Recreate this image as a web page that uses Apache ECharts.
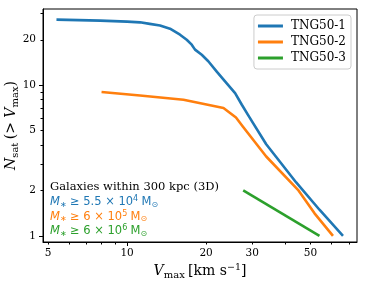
<!DOCTYPE html>
<html><head><meta charset="utf-8">
<script src="https://cdn.jsdelivr.net/npm/echarts@6/dist/echarts.min.js"></script>
<style>html,body{margin:0;padding:0;background:#fff}#c{width:366px;height:285px}</style>
</head><body><div id="c"></div>
<script>
const seriesNames = ['TNG50-1', 'TNG50-2', 'TNG50-3'];
const vmax1 = [5.38, 7.9, 10.0, 11.2, 12.2, 13.35, 14.57, 15.91, 16.87, 17.63, 18.15, 19.25, 20.39, 21.96, 23.62, 25.8, 27.37, 29.2, 33.9, 44.1, 54.1, 66.5];
const nsat1 = [27.2, 26.8, 26.4, 26.1, 25.5, 24.9, 23.7, 21.6, 20.0, 18.55, 17.2, 15.9, 14.4, 12.3, 10.6, 8.86, 7.41, 6.16, 4.05, 2.26, 1.49, 1.0];
const vmax2 = [7.99, 11.2, 16.4, 23.3, 26.0, 27.6, 33.9, 44.8, 51.8, 60.9];
const nsat2 = [9.0, 8.54, 8.0, 7.05, 6.10, 5.32, 3.36, 2.02, 1.41, 1.0];
const vmax3 = [27.7, 54.1];
const nsat3 = [2.0, 1.0];
const xTickLabels = [5, 10, 20, 30, 50];
const xMajorTicks = [10];
const xMinorTicks = [5, 6, 7, 8, 9, 20, 30, 40, 50, 60, 70];
const yTickLabels = [1, 2, 5, 10, 20];
const yMajorTicks = [1, 10];
const yMinorTicks = [2, 3, 4, 5, 6, 7, 8, 9, 20, 30];
const xRange = [4.78, 75.2];
const yRange = [0.91, 32];
const colors = ['#1f77b4', '#ff7f0e', '#2ca02c'];
const annoTitle = 'Galaxies within 300 kpc (3D)';
const annoMass = ['5.5', '6', '6'];
const annoExp = ['4', '5', '6'];

const SERIF = 'DejaVu Serif';
const SANS = 'DejaVu Sans';
const pairs = (xs, ys) => xs.map((x, i) => [x, ys[i]]);
const chart = echarts.init(document.getElementById('c'), null, {renderer: 'canvas'});

const subRich = {
  it: {fontStyle: 'italic', fontFamily: SERIF, fontSize: 14, color: '#000'},
  rm: {fontFamily: SERIF, fontSize: 14, color: '#000'},
  sub: {fontFamily: SERIF, fontSize: 10, color: '#000', padding: [8, 0, 0, 0]},
  sup: {fontFamily: SERIF, fontSize: 9.5, color: '#000', padding: [0, 0, 7, 0]}
};

function massLine(i) {
  const c = colors[i];
  return {
    type: 'text', left: 50, top: 195 + i * 14.6,
    style: {
      text: '{i|M}{s|∗} {r|≥ ' + annoMass[i] + ' × 10}{p|' + annoExp[i] + '} {r|M}{s|⊙}',
      rich: {
        i: {fontStyle: 'italic', fontFamily: SANS, fontSize: 11.5, fill: c, color: c},
        r: {fontFamily: SANS, fontSize: 11.5, fill: c, color: c},
        s: {fontFamily: SANS, fontSize: 8, fill: c, color: c, padding: [5, 0, 0, 0]},
        p: {fontFamily: SANS, fontSize: 8, fill: c, color: c, padding: [0, 0, 6, 0]}
      }
    }
  };
}

const option = {
  animation: false,
  backgroundColor: '#fff',
  grid: {left: 43, right: 9, top: 9, bottom: 43, show: true, borderColor: '#000', borderWidth: 1, containLabel: false, outerBoundsMode: 'none'},
  legend: {
    data: seriesNames, orient: 'vertical', right: 15, top: 15,
    icon: 'rect', itemWidth: 25, itemHeight: 3, itemGap: 4,
    padding: [5, 5, 5, 4],
    borderColor: '#cccccc', borderWidth: 1, borderRadius: 3, backgroundColor: '#fff',
    textStyle: {fontFamily: SERIF, fontSize: 12, color: '#000', padding: [0, 0, 0, 3]}
  },
  xAxis: [{
    type: 'log', logBase: 10, min: xRange[0], max: xRange[1],
    name: '{it|V}{sub|max} {rm|[km s}{sup|−1}{rm|]}',
    nameLocation: 'middle', nameGap: 20, nameMoveOverlap: false,
    nameTextStyle: {rich: subRich},
    axisLine: {show: true, lineStyle: {color: '#000', width: 1}},
    axisTick: {show: true, customValues: xMajorTicks, length: 4, lineStyle: {color: '#000'}},
    axisLabel: {show: true, customValues: xTickLabels, fontFamily: SERIF, fontSize: 10.5, color: '#000', margin: 6, formatter: v => String(Math.round(v))},
    splitLine: {show: false}, minorTick: {show: false}, minorSplitLine: {show: false}
  }, {
    type: 'log', logBase: 10, min: xRange[0], max: xRange[1], gridIndex: 0, position: 'bottom',
    axisLine: {show: false},
    axisTick: {show: true, customValues: xMinorTicks, length: 2.5, lineStyle: {color: '#000'}},
    axisLabel: {show: false}, splitLine: {show: false}
  }],
  yAxis: [{
    type: 'log', logBase: 10, min: yRange[0], max: yRange[1],
    name: '{it|N}{sub|sat} {rm|(> }{it|V}{sub|max}{rm|)}',
    nameLocation: 'middle', nameGap: 23, nameRotate: 90, nameMoveOverlap: false,
    nameTextStyle: {rich: subRich},
    axisLine: {show: true, lineStyle: {color: '#000', width: 1}},
    axisTick: {show: true, customValues: yMajorTicks, length: 4, lineStyle: {color: '#000'}},
    axisLabel: {show: true, customValues: yTickLabels, fontFamily: SERIF, fontSize: 10.5, color: '#000', margin: 7, formatter: v => String(Math.round(v))},
    splitLine: {show: false}
  }, {
    type: 'log', logBase: 10, min: yRange[0], max: yRange[1], gridIndex: 0, position: 'left',
    axisLine: {show: false},
    axisTick: {show: true, customValues: yMinorTicks, length: 2.5, lineStyle: {color: '#000'}},
    axisLabel: {show: false}, splitLine: {show: false}
  }],
  series: [
    {name: seriesNames[0], type: 'line', data: pairs(vmax1, nsat1), showSymbol: false, lineStyle: {width: 2.6, color: colors[0], join: 'round'}, itemStyle: {color: colors[0]}},
    {name: seriesNames[1], type: 'line', data: pairs(vmax2, nsat2), showSymbol: false, lineStyle: {width: 2.6, color: colors[1], join: 'round'}, itemStyle: {color: colors[1]}},
    {name: seriesNames[2], type: 'line', data: pairs(vmax3, nsat3), showSymbol: false, lineStyle: {width: 2.6, color: colors[2]}, itemStyle: {color: colors[2]}}
  ],
  graphic: [
    {type: 'text', left: 50, top: 181, style: {text: annoTitle, fontFamily: SERIF, fontSize: 11.5, fill: '#000'}},
    massLine(0), massLine(1), massLine(2)
  ]
};
chart.setOption(option);
</script>
</body></html>
